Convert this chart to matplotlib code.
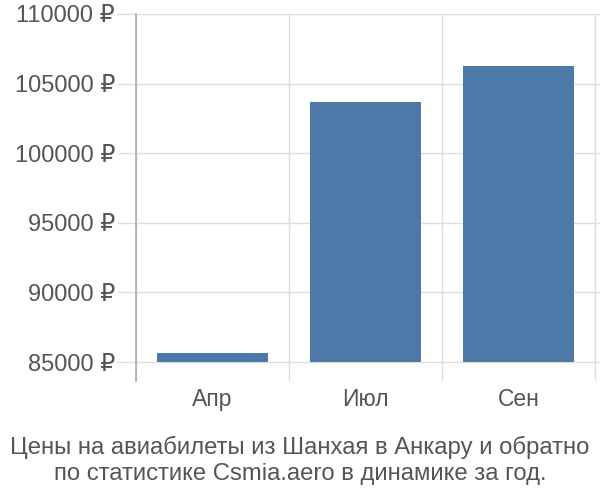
import matplotlib
matplotlib.use("Agg")
import matplotlib.pyplot as plt
from matplotlib.ticker import FixedLocator

categories = ["Апр", "Июл", "Сен"]
values = [85650, 103680, 106260]
baseline = 85000
yticks = [85000, 90000, 95000, 100000, 105000, 110000]
ytick_labels = ["85000 ₽", "90000 ₽", "95000 ₽", "100000 ₽", "105000 ₽", "110000 ₽"]
title = "Цены на авиабилеты из Шанхая в Анкару и обратно\nпо статистике Csmia.aero в динамике за год."

plt.rcParams['font.family'] = ['Liberation Sans', 'DejaVu Sans']

fig = plt.figure(figsize=(6, 5), dpi=100)
ax = fig.add_axes([136/600, 1-381/500, (600-136)/600, (381-14)/500])

x = list(range(len(categories)))
ax.bar(x, [v - baseline for v in values], bottom=baseline, width=0.72, color="#4d79a8", zorder=3)

ax.set_xlim(-0.5, 2.5 + 5/153)
ax.set_ylim(83640, 110000)

ax.set_yticks(yticks)
ax.set_yticklabels(ytick_labels)
ax.set_xticks(x)
ax.set_xticklabels(categories)
ax.xaxis.set_minor_locator(FixedLocator([-0.5, 0.5, 1.5, 2.5]))

ax.grid(axis="y", color="#dddddd", linewidth=1, zorder=0)
ax.grid(axis="x", which="minor", color="#dddddd", linewidth=1, zorder=0)

for s in ["top", "right", "bottom"]:
    ax.spines[s].set_visible(False)
ax.spines["left"].set_color("#aaaaaa")
ax.spines["left"].set_linewidth(1.2)

ax.tick_params(axis="y", length=13.7, width=1, color="#dddddd", labelsize=17, labelcolor="#555555", pad=1.5)
ax.tick_params(axis="x", which="major", length=0, labelsize=16.5, labelcolor="#555555", pad=5)
ax.tick_params(axis="x", which="minor", length=0)

fig.text(0.5, 1-460.5/500, title, ha="center", va="center", fontsize=17.2, color="#555555", linespacing=1.2)

fig.savefig("out.png", dpi=100)
